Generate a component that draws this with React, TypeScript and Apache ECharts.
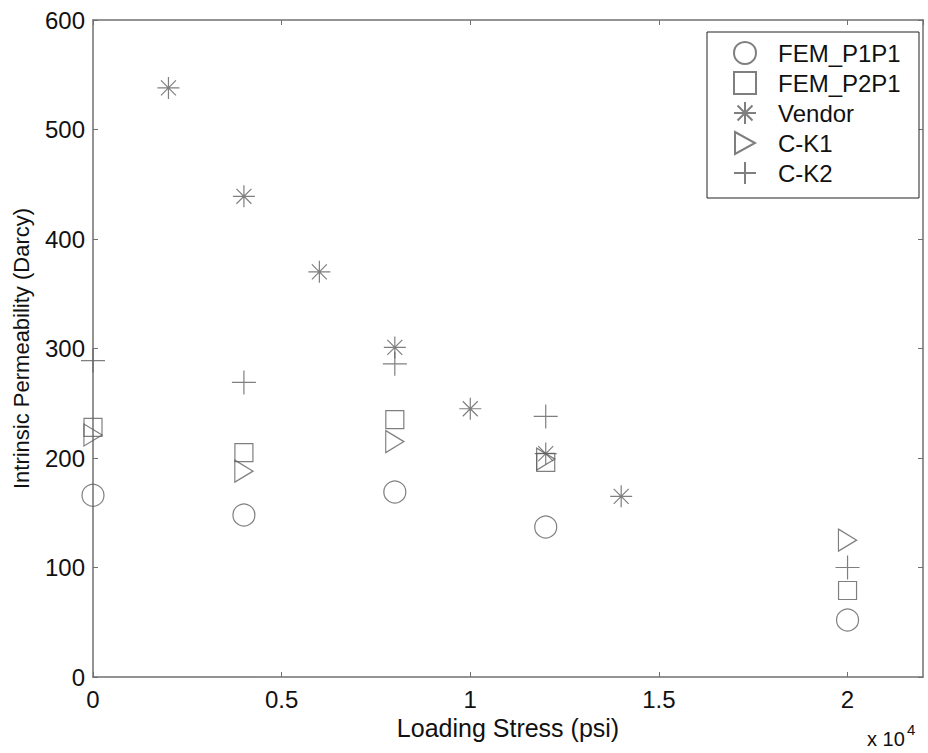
import React, { useEffect, useRef } from "react";
import * as echarts from "echarts";

const xP1P1 = [0, 0.4, 0.8, 1.2, 2];
const yP1P1 = [166, 148, 169, 137, 52];
const xP2P1 = [0, 0.4, 0.8, 1.2, 2];
const yP2P1 = [228, 205, 235, 196, 79];
const xVendor = [0.2, 0.4, 0.6, 0.8, 1.0, 1.2, 1.4];
const yVendor = [538, 439, 370, 301, 245, 204, 165];
const xCK1 = [0, 0.4, 0.8, 1.2, 2];
const yCK1 = [221, 188, 215, 199, 125];
const xCK2 = [0, 0.4, 0.8, 1.2, 2];
const yCK2 = [289, 269, 286, 238, 100];

const seriesNames = ["FEM_P1P1", "FEM_P2P1", "Vendor", "C-K1", "C-K2"];

const pair = (xs: number[], ys: number[]) => xs.map((x, i) => [x, ys[i]]);

const MK = "#5f5f5f";
const FONT = "Liberation Sans, Arial, sans-serif";

export default function App() {
  const ref = useRef<HTMLDivElement>(null);
  useEffect(() => {
    if (!ref.current) return;
    const chart = echarts.init(ref.current, undefined, { renderer: "svg" });
    const base = {
      type: "scatter" as const,
      symbolKeepAspect: true,
      itemStyle: { color: "transparent", borderColor: MK, borderWidth: 1.2 },
      emphasis: { disabled: true },
    };
    const axisCommon = {
      axisLine: { show: true, onZero: false, lineStyle: { color: "#707070", width: 1.5 } },
      axisTick: { show: true, inside: true, length: 5, lineStyle: { color: "#707070" } },
      splitLine: { show: false },
    };
    chart.setOption({
      animation: false,
      backgroundColor: "#fff",
      textStyle: { fontFamily: FONT },
      grid: { left: 93, right: 5, top: 20, bottom: 76 },
      legend: {
        orient: "vertical",
        left: 733,
        top: 41,
        padding: 0,
        itemGap: 6,
        itemWidth: 56,
        itemHeight: 22,
        symbolKeepAspect: true,
        textStyle: { fontSize: 24, color: "#111", fontFamily: FONT },
        data: seriesNames,
        z: 10,
      },
      xAxis: [
        {
          type: "value",
          min: 0,
          max: 2.2,
          interval: 0.5,
          name: "Loading Stress (psi)",
          nameLocation: "middle",
          nameGap: 23,
          nameTextStyle: { fontSize: 25, color: "#111" },
          axisLabel: { fontSize: 24, color: "#111", margin: 10, showMaxLabel: false },
          ...axisCommon,
        },
        {
          type: "value",
          position: "top",
          min: 0,
          max: 2.2,
          interval: 0.5,
          axisLabel: { show: false },
          ...axisCommon,
        },
      ],
      yAxis: [
        {
          type: "value",
          min: 0,
          max: 600,
          interval: 100,
          name: "Intrinsic Permeability (Darcy)",
          nameLocation: "middle",
          nameGap: 61,
          nameTextStyle: { fontSize: 22, color: "#111" },
          axisLabel: { fontSize: 24, color: "#111", margin: 8 },
          ...axisCommon,
        },
        {
          type: "value",
          position: "right",
          min: 0,
          max: 600,
          interval: 100,
          axisLabel: { show: false },
          ...axisCommon,
        },
      ],
      series: [
        { ...base, name: "FEM_P1P1", symbol: "circle", symbolSize: 22, data: pair(xP1P1, yP1P1) },
        {
          ...base,
          name: "FEM_P2P1",
          symbol: "path://M0,0L10,0L10,10L0,10Z",
          symbolSize: 18,
          data: pair(xP2P1, yP2P1),
        },
        {
          ...base,
          name: "Vendor",
          symbol: "path://M5,0L5,10M0,5L10,5M1.6,1.6L8.4,8.4M8.4,1.6L1.6,8.4",
          symbolSize: 22,
          data: pair(xVendor, yVendor),
        },
        {
          ...base,
          name: "C-K1",
          symbol: "path://M0,0L10,5.5L0,11Z",
          symbolSize: [20, 22],
          data: pair(xCK1, yCK1),
        },
        {
          ...base,
          name: "C-K2",
          symbol: "path://M5,0L5,10M0,5L10,5",
          symbolSize: 24,
          data: pair(xCK2, yCK2),
        },
      ],
      graphic: [
        {
          type: "rect",
          z: 5,
          shape: { x: 707, y: 32, width: 212, height: 166 },
          style: { fill: "#fff", stroke: "#222", lineWidth: 1 },
        },
        {
          type: "text",
          left: 867,
          top: 729,
          style: { text: "x 10", fontSize: 20, fill: "#111", fontFamily: FONT },
        },
        {
          type: "text",
          left: 907,
          top: 722,
          style: { text: "4", fontSize: 15, fill: "#111", fontFamily: FONT },
        },
      ],
    });
    return () => chart.dispose();
  }, []);
  return <div ref={ref} style={{ position: "fixed", left: 0, top: 0, width: 928, height: 753 }} />;
}
